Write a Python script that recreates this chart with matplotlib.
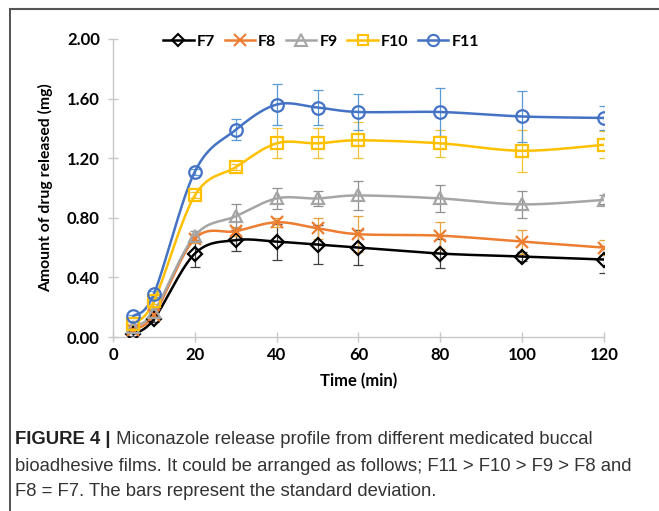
import numpy as np
import matplotlib
matplotlib.use('Agg')
import matplotlib.pyplot as plt
from matplotlib.lines import Line2D

# %% Data
time = [5, 10, 20, 30, 40, 50, 60, 80, 100, 120]
series = ['F7', 'F8', 'F9', 'F10', 'F11']

f7 = [0.02, 0.12, 0.56, 0.65, 0.64, 0.62, 0.60, 0.56, 0.54, 0.52]
f8 = [0.05, 0.15, 0.66, 0.71, 0.77, 0.73, 0.69, 0.68, 0.64, 0.60]
f9 = [0.07, 0.17, 0.68, 0.81, 0.93, 0.93, 0.95, 0.93, 0.89, 0.92]
f10 = [0.09, 0.24, 0.95, 1.14, 1.30, 1.30, 1.32, 1.30, 1.25, 1.29]
f11 = [0.14, 0.29, 1.11, 1.39, 1.56, 1.54, 1.51, 1.51, 1.48, 1.47]

f7_sd = [0.01, 0.02, 0.09, 0.07, 0.12, 0.13, 0.12, 0.10, 0.03, 0.09]
f8_sd = [0.01, 0.02, 0.03, 0.03, 0.03, 0.07, 0.12, 0.09, 0.08, 0.05]
f9_sd = [0.01, 0.02, 0.03, 0.08, 0.07, 0.05, 0.10, 0.09, 0.09, 0.03]
f10_sd = [0.01, 0.02, 0.02, 0.02, 0.10, 0.10, 0.12, 0.09, 0.14, 0.09]
f11_sd = [0.01, 0.02, 0.02, 0.07, 0.14, 0.12, 0.12, 0.16, 0.17, 0.08]

values = [f7, f8, f9, f10, f11]
errors = [f7_sd, f8_sd, f9_sd, f10_sd, f11_sd]

colors = ['#000000', '#ED7D31', '#A5A5A5', '#FFC000', '#4472C4']
err_colors = ['#404040', '#E8A33A', '#909090', '#F2C230', '#5B9BD5']
markers = ['D', 'x', '^', 's', 'o']
msizes = [7, 9, 9, 8.5, 9]

caption_bold = 'FIGURE 4 |'
caption_lines = [
    ' Miconazole release profile from different medicated buccal',
    'bioadhesive films. It could be arranged as follows; F11 > F10 > F9 > F8 and',
    'F8 = F7. The bars represent the standard deviation.',
]


def smooth(x, y, sx, sy, n=30):
    # Excel-style smoothed line: cubic Bezier with Catmull-Rom control points
    px = np.asarray(x, float) * sx
    py = np.asarray(y, float) * sy
    out_x, out_y = [], []
    t = np.linspace(0, 1, n)
    for i in range(len(px) - 1):
        p0 = np.array([px[i], py[i]])
        p3 = np.array([px[i + 1], py[i + 1]])
        prev = np.array([px[max(i - 1, 0)], py[max(i - 1, 0)]])
        nxt = np.array([px[min(i + 2, len(px) - 1)], py[min(i + 2, len(px) - 1)]])
        p1 = p0 + (p3 - prev) / 6
        p2 = p3 - (nxt - p0) / 6
        b = ((1 - t) ** 3)[:, None] * p0 + (3 * (1 - t) ** 2 * t)[:, None] * p1 \
            + (3 * (1 - t) * t ** 2)[:, None] * p2 + (t ** 3)[:, None] * p3
        out_x.extend(b[:, 0] / sx)
        out_y.extend(b[:, 1] / sy)
    return out_x, out_y


plt.rcParams['font.family'] = ['Lato', 'DejaVu Sans']

fig = plt.figure(figsize=(6.59, 5.11), dpi=100)
ax = fig.add_axes([0.1715, 0.3405, 0.745, 0.5832])

# frame lines around the figure panel (left and top)
fig.add_artist(Line2D([0.0152, 0.0152], [0, 0.982], color='#333333', lw=1.2))
fig.add_artist(Line2D([0.0152, 1.0], [0.982, 0.982], color='#555555', lw=1.5))

for v, e, c, ec, m, ms in zip(values, errors, colors, err_colors, markers, msizes):
    ax.errorbar(time, v, yerr=e, fmt='none', ecolor=ec, elinewidth=0.9,
                capsize=3.5, capthick=0.9, zorder=2)
    sx_, sy_ = smooth(time, v, 491 / 120, 298 / 2.0)
    ax.plot(sx_, sy_, color=c, lw=1.8, zorder=3)
    ax.plot(time, v, linestyle='none', marker=m, markersize=ms,
            markerfacecolor='none', markeredgecolor=c, markeredgewidth=1.6, zorder=4)

ax.set_xlim(0, 120)
ax.set_ylim(0, 2.0)
ax.set_xticks([0, 20, 40, 60, 80, 100, 120])
ax.set_yticks([0.0, 0.4, 0.8, 1.2, 1.6, 2.0])
ax.set_yticklabels([f'{t:.2f}' for t in [0.0, 0.4, 0.8, 1.2, 1.6, 2.0]])

for s in ['top', 'right']:
    ax.spines[s].set_visible(False)
for s in ['left', 'bottom']:
    ax.spines[s].set_color('#C8C8C8')
    ax.spines[s].set_linewidth(1.0)
ax.tick_params(axis='both', direction='inout', length=7, width=1.0, color='#C8C8C8',
               labelsize=12, pad=4)
ax.tick_params(axis='y', pad=6)
for lab in ax.get_xticklabels() + ax.get_yticklabels():
    lab.set_fontweight('bold')

ax.set_xlabel('Time (min)', fontsize=12, fontweight='bold', labelpad=7)
ax.set_ylabel('Amount of drug released (mg)', fontsize=11.3, fontweight='bold', labelpad=10)

handles = [Line2D([0], [0], color=c, lw=1.8, marker=m, markersize=ms * 0.9,
                  markerfacecolor='none', markeredgewidth=1.5)
           for c, m, ms in zip(colors, markers, msizes)]
leg = ax.legend(handles, series, loc='center', bbox_to_anchor=(0.424, 0.99), ncol=5,
                frameon=False, handlelength=1.9, handletextpad=0.2, columnspacing=0.6,
                prop={'weight': 'bold', 'size': 11.5})

# caption
cap_font = ['Liberation Sans Narrow', 'Liberation Sans', 'DejaVu Sans']
cap_size = 13.3
t0 = fig.text(0.023, 0.139, caption_bold, fontsize=cap_size, fontweight='bold',
              family=cap_font, color='#222222', va='center')
fig.canvas.draw()
bb = t0.get_window_extent()
x_after = bb.x1 / fig.bbox.width
fig.text(x_after, 0.139, caption_lines[0], fontsize=cap_size, family=cap_font,
         color='#333333', va='center')
fig.text(0.023, 0.088, caption_lines[1], fontsize=cap_size, family=cap_font,
         color='#333333', va='center')
fig.text(0.023, 0.039, caption_lines[2], fontsize=cap_size, family=cap_font,
         color='#333333', va='center')

fig.savefig('out.png', dpi=100)
